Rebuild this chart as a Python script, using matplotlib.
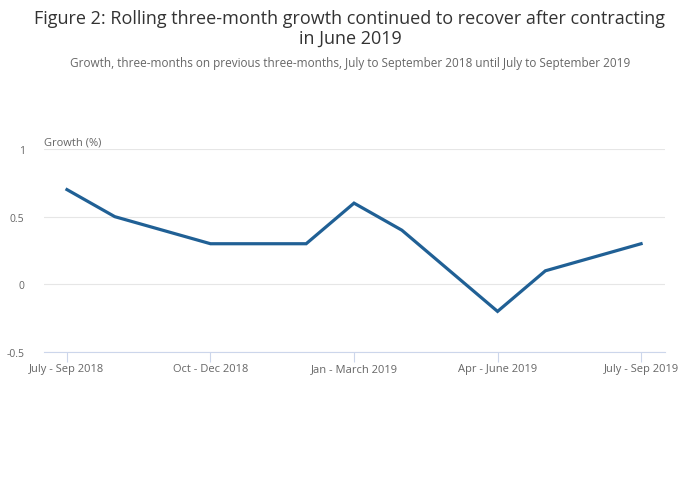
import matplotlib
matplotlib.use("Agg")
import matplotlib.pyplot as plt

plt.rcParams['font.family'] = ['Open Sans', 'DejaVu Sans']

# rolling three-month growth, %
periods = ["July - Sep 2018", "Aug - Oct 2018", "Sep - Nov 2018", "Oct - Dec 2018",
           "Nov - Jan 2019", "Dec - Feb 2019", "Jan - March 2019", "Feb - Apr 2019",
           "Mar - May 2019", "Apr - June 2019", "May - July 2019", "June - Aug 2019",
           "July - Sep 2019"]
growth = [0.7, 0.5, 0.4, 0.3, 0.3, 0.3, 0.6, 0.4, 0.1, -0.2, 0.1, 0.2, 0.3]
tick_idx = [0, 3, 6, 9, 12]

fig = plt.figure(figsize=(7, 5.02), dpi=100)
ax = fig.add_axes([44 / 700, 149 / 502, 621 / 700, 203 / 502])

x = list(range(len(periods)))
ax.plot(x, growth, color="#206095", linewidth=2.3, solid_joinstyle="miter")

ax.set_xlim(-0.48, 12.5)
ax.set_ylim(-0.5, 1)
ax.set_yticks([-0.5, 0, 0.5, 1])
ax.set_yticklabels(["-0.5", "0", "0.5", "1"])
ax.set_xticks(tick_idx)
ax.set_xticklabels([periods[i] for i in tick_idx])

ax.grid(axis="y", color="#e6e6e6", linewidth=0.8)
ax.set_axisbelow(True)
for s in ["top", "right", "left"]:
    ax.spines[s].set_visible(False)
ax.spines["bottom"].set_color("#ccd6eb")
ax.spines["bottom"].set_linewidth(0.8)
ax.tick_params(axis="x", colors="#ccd6eb", labelcolor="#666666", labelsize=8,
               length=7, width=0.8, pad=1)
ax.tick_params(axis="y", length=0, labelcolor="#666666", labelsize=7.5, pad=14)

ax.text(0, 1.005, "Growth (%)", transform=ax.transAxes, ha="left", va="bottom",
        fontsize=8, color="#666666")

fig.text(0.5, 1 - 29 / 502, "Figure 2: Rolling three-month growth continued to recover after contracting\nin June 2019",
         ha="center", va="center", fontsize=13.0, color="#333333", linespacing=1.12)
fig.text(0.5, 1 - 64 / 502, "Growth, three-months on previous three-months, July to September 2018 until July to September 2019",
         ha="center", va="center", fontsize=8.5, color="#666666")

fig.savefig("out.png", dpi=100)
